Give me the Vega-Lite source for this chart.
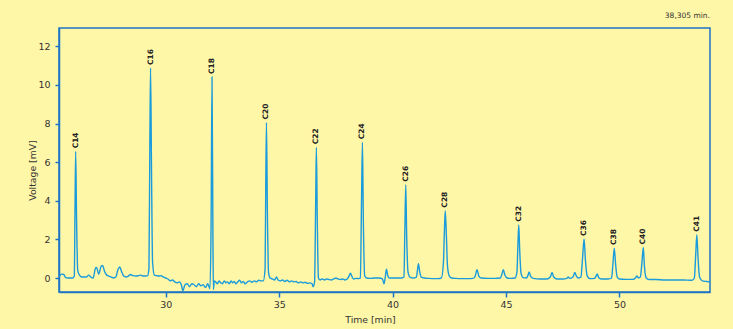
{
  "$schema": "https://vega.github.io/schema/vega-lite/v6.json",
  "width": 651,
  "height": 264,
  "autosize": {"type": "none"},
  "padding": {"left": 59, "top": 28, "right": 23, "bottom": 37},
  "background": "#FFF7A8",
  "title": {"text": "38,305 min.", "anchor": "end", "orient": "top", "frame": "group", "offset": 9, "fontSize": 7.5, "fontWeight": "normal", "color": "#333333", "font": "DejaVu Sans"},
  "config": {
    "view": {"stroke": "#1F74C4", "strokeWidth": 1.5},
    "axis": {"domainColor": "#1F74C4", "domainWidth": 1.5, "tickColor": "#1F74C4", "tickWidth": 1.5, "grid": false, "labelFont": "DejaVu Sans", "labelFontSize": 9.5, "labelColor": "#333333", "titleFont": "DejaVu Sans", "titleFontSize": 9.3, "titleFontWeight": "normal", "titleColor": "#333333"}
  },
  "datasets": {
    "signal": [
      {"t": 25.3, "v": 0.05}, {"t": 25.4, "v": 0.2}, {"t": 25.5, "v": 0.18}, {"t": 25.6, "v": 0.02}, {"t": 25.7, "v": 0.0}, {"t": 25.8, "v": 0.0}, {"t": 25.9, "v": 0.0}, {"t": 25.97, "v": 0.1},
      {"t": 26.0, "v": 3.5}, {"t": 26.03, "v": 6.56}, {"t": 26.07, "v": 3.0}, {"t": 26.12, "v": 0.4}, {"t": 26.2, "v": 0.15}, {"t": 26.3, "v": 0.05}, {"t": 26.4, "v": 0.05}, {"t": 26.5, "v": 0.05},
      {"t": 26.6, "v": 0.15}, {"t": 26.7, "v": 0.05}, {"t": 26.8, "v": 0.0}, {"t": 26.9, "v": 0.5}, {"t": 26.95, "v": 0.55}, {"t": 27.05, "v": 0.2}, {"t": 27.15, "v": 0.6}, {"t": 27.22, "v": 0.65},
      {"t": 27.3, "v": 0.35}, {"t": 27.4, "v": 0.15}, {"t": 27.5, "v": 0.1}, {"t": 27.6, "v": 0.05}, {"t": 27.7, "v": 0.0}, {"t": 27.8, "v": 0.05}, {"t": 27.9, "v": 0.45}, {"t": 27.97, "v": 0.57},
      {"t": 28.05, "v": 0.35}, {"t": 28.15, "v": 0.1}, {"t": 28.25, "v": 0.05}, {"t": 28.35, "v": 0.1}, {"t": 28.45, "v": 0.18}, {"t": 28.55, "v": 0.12}, {"t": 28.7, "v": 0.1}, {"t": 28.8, "v": 0.12},
      {"t": 28.9, "v": 0.15}, {"t": 29.0, "v": 0.1}, {"t": 29.1, "v": 0.1}, {"t": 29.2, "v": 0.12}, {"t": 29.26, "v": 0.5}, {"t": 29.3, "v": 7.0}, {"t": 29.33, "v": 10.88}, {"t": 29.37, "v": 6.0},
      {"t": 29.42, "v": 0.8}, {"t": 29.5, "v": 0.15}, {"t": 29.6, "v": 0.12}, {"t": 29.7, "v": 0.1}, {"t": 29.8, "v": 0.12}, {"t": 29.9, "v": 0.05}, {"t": 30.0, "v": 0.0}, {"t": 30.1, "v": -0.05},
      {"t": 30.2, "v": -0.15}, {"t": 30.3, "v": -0.1}, {"t": 30.4, "v": -0.2}, {"t": 30.5, "v": -0.25}, {"t": 30.6, "v": -0.2}, {"t": 30.7, "v": -0.4}, {"t": 30.75, "v": -0.66}, {"t": 30.85, "v": -0.35},
      {"t": 30.95, "v": -0.3}, {"t": 31.05, "v": -0.45}, {"t": 31.15, "v": -0.3}, {"t": 31.25, "v": -0.35}, {"t": 31.35, "v": -0.45}, {"t": 31.45, "v": -0.3}, {"t": 31.55, "v": -0.4}, {"t": 31.65, "v": -0.35},
      {"t": 31.75, "v": -0.5}, {"t": 31.85, "v": -0.3}, {"t": 31.95, "v": -0.55}, {"t": 32.0, "v": 3.0}, {"t": 32.04, "v": 10.41}, {"t": 32.08, "v": 2.0}, {"t": 32.1, "v": -0.6}, {"t": 32.14, "v": -0.15},
      {"t": 32.2, "v": -0.2}, {"t": 32.28, "v": -0.3}, {"t": 32.35, "v": -0.15}, {"t": 32.42, "v": -0.25}, {"t": 32.5, "v": -0.3}, {"t": 32.58, "v": -0.15}, {"t": 32.65, "v": -0.25}, {"t": 32.72, "v": -0.2},
      {"t": 32.8, "v": -0.3}, {"t": 32.88, "v": -0.15}, {"t": 32.95, "v": -0.25}, {"t": 33.02, "v": -0.18}, {"t": 33.1, "v": -0.3}, {"t": 33.18, "v": -0.2}, {"t": 33.26, "v": -0.12}, {"t": 33.34, "v": -0.25},
      {"t": 33.42, "v": -0.18}, {"t": 33.5, "v": -0.3}, {"t": 33.6, "v": -0.2}, {"t": 33.7, "v": -0.15}, {"t": 33.8, "v": -0.22}, {"t": 33.9, "v": -0.15}, {"t": 34.0, "v": -0.2}, {"t": 34.1, "v": -0.12},
      {"t": 34.2, "v": -0.15}, {"t": 34.3, "v": -0.15}, {"t": 34.38, "v": 0.5}, {"t": 34.41, "v": 5.0}, {"t": 34.44, "v": 8.06}, {"t": 34.48, "v": 3.5}, {"t": 34.53, "v": 0.3}, {"t": 34.6, "v": 0.0},
      {"t": 34.7, "v": -0.05}, {"t": 34.8, "v": -0.1}, {"t": 34.88, "v": 0.05}, {"t": 34.95, "v": -0.1}, {"t": 35.05, "v": -0.15}, {"t": 35.15, "v": -0.1}, {"t": 35.25, "v": -0.18}, {"t": 35.35, "v": -0.12},
      {"t": 35.45, "v": -0.2}, {"t": 35.55, "v": -0.15}, {"t": 35.65, "v": -0.2}, {"t": 35.75, "v": -0.18}, {"t": 35.85, "v": -0.25}, {"t": 35.95, "v": -0.2}, {"t": 36.05, "v": -0.25}, {"t": 36.15, "v": -0.22},
      {"t": 36.25, "v": -0.28}, {"t": 36.35, "v": -0.25}, {"t": 36.45, "v": -0.3}, {"t": 36.5, "v": -0.45}, {"t": 36.56, "v": -0.2}, {"t": 36.61, "v": 4.0}, {"t": 36.64, "v": 6.77}, {"t": 36.68, "v": 3.0},
      {"t": 36.73, "v": 0.0}, {"t": 36.8, "v": -0.1}, {"t": 36.9, "v": -0.05}, {"t": 37.0, "v": -0.1}, {"t": 37.1, "v": -0.05}, {"t": 37.2, "v": -0.08}, {"t": 37.3, "v": -0.1}, {"t": 37.4, "v": -0.05},
      {"t": 37.5, "v": 0.0}, {"t": 37.6, "v": -0.05}, {"t": 37.7, "v": -0.08}, {"t": 37.8, "v": -0.05}, {"t": 37.9, "v": -0.1}, {"t": 38.0, "v": -0.05}, {"t": 38.08, "v": 0.1}, {"t": 38.14, "v": 0.25},
      {"t": 38.2, "v": 0.1}, {"t": 38.28, "v": -0.05}, {"t": 38.4, "v": -0.02}, {"t": 38.5, "v": -0.03}, {"t": 38.58, "v": 0.0}, {"t": 38.63, "v": 4.0}, {"t": 38.67, "v": 7.03}, {"t": 38.71, "v": 3.0},
      {"t": 38.77, "v": 0.1}, {"t": 38.85, "v": 0.0}, {"t": 39.0, "v": -0.02}, {"t": 39.2, "v": 0.0}, {"t": 39.4, "v": 0.0}, {"t": 39.55, "v": -0.05}, {"t": 39.62, "v": -0.3}, {"t": 39.67, "v": 0.0},
      {"t": 39.73, "v": 0.45}, {"t": 39.79, "v": 0.1}, {"t": 39.85, "v": 0.0}, {"t": 40.0, "v": 0.0}, {"t": 40.2, "v": 0.0}, {"t": 40.4, "v": 0.0}, {"t": 40.5, "v": 0.05}, {"t": 40.54, "v": 2.5},
      {"t": 40.58, "v": 4.83}, {"t": 40.62, "v": 2.2}, {"t": 40.68, "v": 0.3}, {"t": 40.76, "v": 0.05}, {"t": 40.9, "v": 0.0}, {"t": 41.05, "v": 0.05}, {"t": 41.1, "v": 0.45}, {"t": 41.14, "v": 0.74},
      {"t": 41.19, "v": 0.35}, {"t": 41.26, "v": 0.05}, {"t": 41.4, "v": 0.0}, {"t": 41.6, "v": -0.02}, {"t": 41.8, "v": -0.03}, {"t": 42.0, "v": -0.03}, {"t": 42.15, "v": 0.0}, {"t": 42.24, "v": 0.8},
      {"t": 42.28, "v": 2.3}, {"t": 42.32, "v": 3.49}, {"t": 42.37, "v": 2.2}, {"t": 42.42, "v": 0.6}, {"t": 42.5, "v": 0.1}, {"t": 42.6, "v": 0.0}, {"t": 42.8, "v": -0.02}, {"t": 43.0, "v": -0.03},
      {"t": 43.3, "v": -0.03}, {"t": 43.55, "v": -0.02}, {"t": 43.64, "v": 0.1}, {"t": 43.72, "v": 0.43}, {"t": 43.8, "v": 0.1}, {"t": 43.9, "v": 0.0}, {"t": 44.2, "v": -0.02}, {"t": 44.5, "v": -0.02},
      {"t": 44.75, "v": 0.0}, {"t": 44.82, "v": 0.2}, {"t": 44.88, "v": 0.43}, {"t": 44.95, "v": 0.15}, {"t": 45.05, "v": 0.0}, {"t": 45.2, "v": -0.02}, {"t": 45.4, "v": 0.0}, {"t": 45.48, "v": 0.3},
      {"t": 45.52, "v": 1.6}, {"t": 45.56, "v": 2.76}, {"t": 45.6, "v": 1.5}, {"t": 45.66, "v": 0.25}, {"t": 45.75, "v": 0.02}, {"t": 45.9, "v": 0.0}, {"t": 45.97, "v": 0.15}, {"t": 46.02, "v": 0.31},
      {"t": 46.08, "v": 0.1}, {"t": 46.2, "v": -0.02}, {"t": 46.5, "v": -0.05}, {"t": 46.8, "v": -0.05}, {"t": 46.95, "v": 0.05}, {"t": 47.03, "v": 0.29}, {"t": 47.1, "v": 0.05}, {"t": 47.25, "v": -0.05},
      {"t": 47.5, "v": -0.05}, {"t": 47.68, "v": -0.02}, {"t": 47.74, "v": 0.05}, {"t": 47.8, "v": -0.02}, {"t": 47.95, "v": 0.05}, {"t": 48.03, "v": 0.29}, {"t": 48.1, "v": 0.1}, {"t": 48.2, "v": 0.0},
      {"t": 48.3, "v": 0.05}, {"t": 48.37, "v": 1.0}, {"t": 48.44, "v": 2.02}, {"t": 48.5, "v": 0.9}, {"t": 48.58, "v": 0.1}, {"t": 48.7, "v": -0.03}, {"t": 48.9, "v": -0.02}, {"t": 48.96, "v": 0.08},
      {"t": 49.02, "v": 0.21}, {"t": 49.08, "v": 0.03}, {"t": 49.2, "v": -0.05}, {"t": 49.5, "v": -0.05}, {"t": 49.65, "v": 0.0}, {"t": 49.71, "v": 0.7}, {"t": 49.77, "v": 1.55}, {"t": 49.83, "v": 0.7},
      {"t": 49.9, "v": 0.05}, {"t": 50.0, "v": -0.05}, {"t": 50.3, "v": -0.07}, {"t": 50.6, "v": -0.07}, {"t": 50.7, "v": 0.0}, {"t": 50.77, "v": 0.1}, {"t": 50.83, "v": 0.0}, {"t": 50.92, "v": 0.05},
      {"t": 50.99, "v": 0.8}, {"t": 51.05, "v": 1.58}, {"t": 51.1, "v": 0.6}, {"t": 51.18, "v": 0.0}, {"t": 51.3, "v": -0.08}, {"t": 51.6, "v": -0.08}, {"t": 52.0, "v": -0.1}, {"t": 52.4, "v": -0.1},
      {"t": 52.8, "v": -0.1}, {"t": 53.2, "v": -0.12}, {"t": 53.3, "v": 0.0}, {"t": 53.36, "v": 1.2}, {"t": 53.41, "v": 2.24}, {"t": 53.46, "v": 1.1}, {"t": 53.53, "v": 0.05}, {"t": 53.65, "v": -0.15},
      {"t": 53.85, "v": -0.18}, {"t": 54.0, "v": -0.2}
    ],
    "peaks": [
      {"label": "C14", "t": 26.03, "v": 6.56},
      {"label": "C16", "t": 29.33, "v": 10.88},
      {"label": "C18", "t": 32.04, "v": 10.41},
      {"label": "C20", "t": 34.44, "v": 8.06},
      {"label": "C22", "t": 36.64, "v": 6.77},
      {"label": "C24", "t": 38.67, "v": 7.03},
      {"label": "C26", "t": 40.58, "v": 4.83},
      {"label": "C28", "t": 42.32, "v": 3.49},
      {"label": "C32", "t": 45.56, "v": 2.76},
      {"label": "C36", "t": 48.44, "v": 2.02},
      {"label": "C38", "t": 49.77, "v": 1.55},
      {"label": "C40", "t": 51.05, "v": 1.58},
      {"label": "C41", "t": 53.41, "v": 2.24}
    ]
  },
  "encoding": {
    "x": {"field": "t", "type": "quantitative", "scale": {"domain": [25.295, 53.99], "nice": false, "zero": false},
      "axis": {"values": [30, 35, 40, 45, 50], "tickSize": 5, "labelPadding": 2, "title": "Time [min]", "titleX": 311, "titleY": 30, "titleBaseline": "alphabetic", "titleAlign": "center", "titleAnchor": null}},
    "y": {"field": "v", "type": "quantitative", "scale": {"domain": [-0.725, 12.95], "nice": false, "zero": false},
      "axis": {"values": [0, 2, 4, 6, 8, 10, 12], "tickSize": 4, "labelPadding": 5, "title": "Voltage [mV]", "titleX": -27, "titleY": 142, "titleAngle": 270, "titleBaseline": "middle", "titleAlign": "center"}}
  },
  "layer": [
    {"data": {"name": "signal"}, "mark": {"type": "line", "color": "#1A9BDB", "strokeWidth": 1.4, "interpolate": "monotone", "clip": true}},
    {"data": {"name": "peaks"}, "mark": {"type": "text", "angle": 270, "align": "left", "baseline": "middle", "dx": 3, "fontSize": 7.5, "fontWeight": "bold", "font": "DejaVu Sans", "color": "#222222"},
      "encoding": {"text": {"field": "label"}}}
  ]
}
